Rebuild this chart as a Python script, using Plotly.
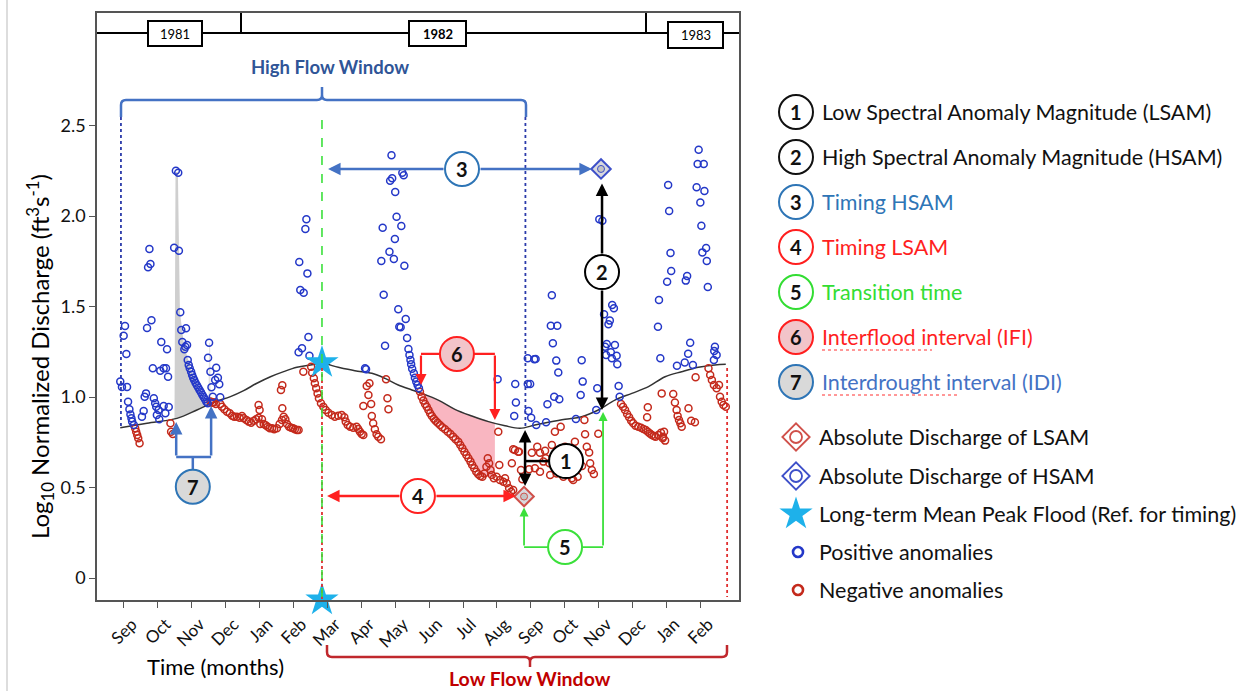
import plotly.graph_objects as go

W, H = 1252, 691

# ---------------- data ----------------
month_labels = ["Sep", "Oct", "Nov", "Dec", "Jan", "Feb", "Mar", "Apr", "May", "Jun",
                "Jul", "Aug", "Sep", "Oct", "Nov", "Dec", "Jan", "Feb"]
month_ticks = list(range(len(month_labels)))   # 0 = Sep 1981
y_ticks = [0, 0.5, 1.0, 1.5, 2.0, 2.5]
y_tick_labels = ["0", "0.5", "1.0", "1.5", "2.0", "2.5"]
years = ["1981", "1982", "1983"]

# long-term mean (black curve)
mean_x = [-0.11, 0.68, 1.56, 2.15, 2.65, 3.14, 3.53, 3.92, 4.32, 4.71, 5.10, 5.50, 5.83,
          6.32, 6.81, 7.31, 7.70, 8.09, 8.49, 8.78, 9.27, 9.76, 10.26, 10.75, 11.24, 11.68,
          12.12, 12.52, 13.01, 13.50, 13.99, 14.48, 14.98, 15.47, 15.96, 16.45, 16.94, 17.43, 17.75]
mean_y = [0.830, 0.855, 0.882, 0.928, 0.971, 1.002, 1.035, 1.076, 1.112, 1.140, 1.164, 1.177, 1.186,
          1.164, 1.145, 1.131, 1.103, 1.066, 1.039, 1.020, 0.983, 0.932, 0.895, 0.864, 0.841, 0.827,
          0.845, 0.860, 0.877, 0.891, 0.928, 0.983, 1.020, 1.057, 1.112, 1.140, 1.164, 1.177, 1.181]

# positive anomalies (month index, log10 discharge)
pos_1981 = [(-0.11, 1.085), (-0.06, 1.055), (0.09, 1.055), (0.03, 1.392), (-0.01, 1.339), (0.07, 1.238),
            (0.12, 0.974), (0.16, 0.932), (0.19, 0.904), (0.22, 0.882), (0.24, 0.864), (0.29, 0.845),
            (0.75, 1.818), (0.71, 1.717), (0.78, 1.735), (0.68, 1.381), (0.81, 1.424), (1.10, 1.304),
            (1.27, 1.264), (0.85, 1.159), (1.07, 1.145), (1.17, 1.159), (1.24, 1.159), (1.30, 1.112),
            (0.65, 1.020), (0.61, 1.002), (0.88, 0.993), (0.92, 0.965), (0.95, 0.946), (1.17, 0.950),
            (1.32, 0.945), (1.02, 0.928), (0.97, 0.901), (1.04, 0.877), (1.22, 0.910), (0.58, 0.923),
            (0.53, 0.891), (1.53, 2.250), (1.60, 2.239), (1.48, 1.825), (1.62, 1.808), (1.66, 1.468),
            (1.69, 1.370), (1.83, 1.380), (1.72, 1.304), (1.78, 1.264), (1.86, 1.287), (1.81, 1.278),
            (1.88, 1.204), (1.91, 1.177), (1.94, 1.159), (1.98, 1.140), (2.01, 1.122), (2.04, 1.107),
            (2.07, 1.094), (2.11, 1.079), (2.15, 1.065), (2.19, 1.052), (2.23, 1.039), (2.27, 1.026),
            (2.31, 1.013), (2.35, 1.000), (2.39, 0.987), (2.43, 0.974), (2.47, 0.965),
            (2.51, 1.300), (2.48, 1.217), (2.55, 1.140), (2.58, 1.054), (2.62, 1.002), (2.72, 1.162),
            (2.77, 1.107), (2.69, 1.094), (2.81, 1.070), (2.84, 0.998)]
pos_1982 = [(5.38, 1.982), (5.35, 1.928), (5.17, 1.746), (5.41, 1.683), (5.20, 1.591), (5.30, 1.576),
            (5.44, 1.331), (5.15, 1.247), (5.25, 1.269), (5.47, 1.228), (7.11, 1.159), (7.14, 1.153),
            (7.89, 2.335), (7.85, 2.195), (7.91, 2.208), (8.21, 2.239), (8.25, 2.225), (8.00, 2.133),
            (8.04, 1.996), (7.63, 1.935), (8.18, 1.945), (7.99, 1.873), (7.83, 1.803), (7.59, 1.751),
            (7.96, 1.762), (8.27, 1.725), (7.66, 1.565), (8.09, 1.485), (8.31, 1.431), (8.12, 1.388),
            (8.16, 1.385), (8.35, 1.326), (7.70, 1.283), (8.39, 1.265), (8.42, 1.232), (8.45, 1.204),
            (8.47, 1.181), (8.50, 1.156), (8.55, 1.131), (8.58, 1.107), (8.62, 1.085), (8.66, 1.066),
            (8.70, 1.048), (11.02, 1.098), (11.54, 1.072), (11.56, 0.969), (11.51, 0.895), (11.91, 1.214),
            (12.10, 1.208), (12.14, 1.210), (11.91, 1.072), (11.98, 1.072), (11.93, 0.923), (12.01, 0.886),
            (12.16, 0.845), (12.45, 0.860), (12.62, 1.562), (12.59, 1.394), (12.78, 1.394), (12.65, 1.297),
            (12.75, 1.201), (12.81, 1.136), (12.69, 1.002), (12.84, 0.987), (12.49, 0.960), (13.50, 1.203),
            (13.53, 1.085), (13.47, 1.011), (13.33, 0.878), (13.96, 1.048), (13.93, 0.928),
            (14.02, 1.982), (14.11, 1.974), (14.40, 1.508), (14.45, 1.490), (14.16, 1.457), (14.33, 1.422),
            (14.29, 1.402), (14.24, 1.293), (14.48, 1.287), (14.19, 1.278), (14.22, 1.232), (14.36, 1.247),
            (14.39, 1.214), (14.53, 1.228), (14.55, 1.181), (14.59, 1.061), (14.62, 1.002)]
pos_1983 = [(16.95, 2.366), (16.92, 2.287), (17.10, 2.287), (16.05, 2.171), (16.89, 2.159), (17.12, 2.138),
            (17.00, 2.074), (16.08, 2.028), (17.03, 1.946), (17.17, 1.823), (17.06, 1.799), (17.19, 1.751),
            (16.12, 1.796), (16.14, 1.696), (16.61, 1.669), (16.57, 1.643), (16.02, 1.637), (17.22, 1.608),
            (15.78, 1.536), (15.75, 1.388), (16.70, 1.300), (16.64, 1.239), (15.82, 1.214), (16.54, 1.190),
            (16.31, 1.173), (16.78, 1.177), (17.43, 1.278), (17.41, 1.254), (17.48, 1.232), (17.40, 1.204)]

# negative anomalies
neg_1981 = [(0.33, 0.827), (0.36, 0.808), (0.39, 0.790), (0.42, 0.772), (0.46, 0.744), (1.37, 0.855),
            (1.39, 0.808), (1.44, 0.796), (2.55, 0.975), (2.60, 0.968), (2.65, 0.971), (2.71, 0.961),
            (2.84, 0.961), (2.89, 0.946), (2.96, 0.932), (3.04, 0.919), (3.12, 0.910), (3.19, 0.897),
            (3.25, 0.891), (3.33, 0.891), (3.41, 0.886), (3.48, 0.895), (3.53, 0.882), (3.61, 0.873),
            (3.68, 0.864), (3.75, 0.858), (3.83, 0.869), (3.90, 0.877), (3.97, 0.886), (4.02, 0.851),
            (4.07, 0.877), (4.12, 0.851), (4.18, 0.844), (4.24, 0.836), (4.30, 0.827), (4.37, 0.827),
            (4.43, 0.822), (4.51, 0.827), (4.59, 0.851), (4.66, 0.873), (4.71, 0.891), (4.76, 0.877),
            (4.81, 0.851), (4.87, 0.836), (4.93, 0.830), (4.99, 0.827), (5.04, 0.822), (5.10, 0.818),
            (5.15, 0.818), (3.97, 0.956), (4.00, 0.928), (4.67, 0.938), (4.63, 1.039), (4.67, 1.065),
            (5.29, 1.140)]
neg_spring_1982 = [(5.52, 1.167), (5.55, 1.134), (5.60, 1.103), (5.63, 1.076), (5.67, 1.048), (5.71, 1.020),
                   (5.75, 0.993), (5.81, 0.965), (5.88, 0.946), (5.95, 0.928), (6.03, 0.913), (6.13, 0.901),
                   (6.22, 0.891), (6.32, 0.897), (6.42, 0.901), (6.50, 0.888), (6.54, 0.864), (6.60, 0.845),
                   (6.67, 0.836), (6.76, 0.830), (6.86, 0.836), (6.91, 0.823), (6.96, 0.808), (7.01, 0.796),
                   (7.06, 0.790), (7.16, 1.061), (7.24, 1.076), (7.21, 1.011), (7.29, 0.961), (7.06, 0.950),
                   (7.31, 0.895), (7.35, 0.855), (7.40, 0.822), (7.45, 0.794), (7.50, 0.781), (7.58, 0.766),
                   (7.73, 1.098), (7.77, 0.993), (7.80, 0.932)]
neg_summer_1982 = [(8.73, 1.029), (8.78, 1.002), (8.83, 0.980), (8.88, 0.961), (8.93, 0.946), (8.98, 0.928),
                   (9.03, 0.910), (9.08, 0.895), (9.14, 0.880), (9.19, 0.869), (9.25, 0.858), (9.32, 0.845),
                   (9.39, 0.833), (9.47, 0.822), (9.55, 0.808), (9.63, 0.796), (9.71, 0.781), (9.78, 0.766),
                   (9.86, 0.753), (9.92, 0.735), (9.98, 0.717), (10.04, 0.698), (10.10, 0.680), (10.16, 0.661),
                   (10.22, 0.643), (10.27, 0.624), (10.33, 0.606), (10.39, 0.587), (10.45, 0.573), (10.51, 0.564),
                   (10.57, 0.560), (10.63, 0.578), (10.69, 0.615), (10.73, 0.661), (10.77, 0.634), (10.81, 0.597),
                   (10.85, 0.569), (10.91, 0.551), (10.99, 0.560), (11.09, 0.541), (11.19, 0.532), (11.24, 0.551),
                   (11.29, 0.523), (11.36, 0.496), (11.42, 0.477), (11.48, 0.486), (11.04, 0.808), (11.07, 0.624),
                   (11.44, 0.634), (11.48, 0.711), (11.63, 0.698)]
neg_autumn_1982 = [(11.53, 0.707), (11.65, 0.698), (11.71, 0.597), (11.75, 0.545), (12.03, 0.692), (12.19, 0.725),
                   (12.27, 0.692), (12.42, 0.703), (12.44, 0.661), (12.55, 0.634), (12.71, 0.808), (12.88, 0.836),
                   (12.62, 0.735), (12.88, 0.698), (13.01, 0.725), (13.06, 0.680), (13.16, 0.643), (13.30, 0.753),
                   (13.25, 0.541), (13.60, 0.794), (13.58, 0.873), (13.65, 0.725), (13.72, 0.694), (13.75, 0.634),
                   (13.80, 0.597), (13.86, 0.575), (13.99, 0.797), (11.95, 0.601), (12.12, 0.606), (12.27, 0.587),
                   (12.37, 0.643), (12.57, 0.569), (12.76, 0.578), (12.96, 0.560), (13.21, 0.551), (13.38, 0.560),
                   (13.04, 0.608), (13.51, 0.619), (12.74, 0.641)]
neg_winter_1983 = [(14.66, 0.961), (14.72, 0.946), (14.78, 0.928), (14.84, 0.906), (14.90, 0.888), (14.96, 0.869),
                   (15.02, 0.855), (15.09, 0.841), (15.17, 0.836), (15.25, 0.830), (15.32, 0.823), (15.39, 0.818),
                   (15.45, 0.808), (15.51, 0.799), (15.57, 0.790), (15.63, 0.785), (15.68, 0.781), (15.76, 0.790),
                   (15.84, 0.803), (15.90, 0.781), (15.96, 0.759), (15.93, 0.808), (15.89, 0.772), (15.45, 0.943),
                   (15.43, 0.888), (15.86, 1.020), (16.20, 1.017), (16.25, 0.969), (16.30, 0.928), (16.33, 0.895),
                   (16.37, 0.873), (16.41, 0.855), (16.45, 0.836), (16.65, 0.938), (16.73, 0.869), (16.84, 0.860),
                   (16.86, 1.109), (17.24, 1.159), (17.29, 1.122), (17.34, 1.094), (17.40, 1.066), (17.48, 1.048),
                   (17.55, 1.066), (17.58, 1.002), (17.63, 0.974), (17.68, 0.956), (17.75, 0.946)]

# shaded intervals
idi_fill_x = [1.49, 1.52, 1.59, 1.65, 1.77, 1.89, 2.01, 2.15, 2.30, 2.45, 2.45, 2.15, 1.80, 1.49]
idi_fill_y = [0.878, 2.243, 2.243, 1.470, 1.287, 1.204, 1.127, 1.061, 1.011, 0.967, 0.959, 0.928, 0.901, 0.878]
idi_spike_x = [2.49, 2.51, 2.54, 2.56]
idi_spike_y = [0.960, 1.300, 1.300, 0.955]
ifi_fill_x = [8.68, 9.27, 9.76, 10.26, 10.75, 10.94, 10.94, 10.55, 10.26, 9.96, 9.67, 9.27, 8.98, 8.73, 8.68]
ifi_fill_y = [1.039, 0.983, 0.932, 0.895, 0.864, 0.856, 0.558, 0.558, 0.643, 0.725, 0.790, 0.855, 0.924, 1.020, 1.039]

# key reference points
peak_ref = (5.84, 1.19)          # long-term mean peak flood
hsam_pt = (14.07, 2.26)          # absolute discharge of HSAM
lsam_pt = (11.80, 0.45)          # absolute discharge of LSAM
high_window = (-0.09, 11.84)     # month span
low_window_end = 17.79

legend_numbered = [("1", "Low Spectral Anomaly Magnitude (LSAM)", "#111111", "#111111", "white"),
                   ("2", "High Spectral Anomaly Magnitude (HSAM)", "#111111", "#111111", "white"),
                   ("3", "Timing HSAM", "#2E75B6", "#2E75B6", "white"),
                   ("4", "Timing LSAM", "#FF1F1F", "#FF1F1F", "white"),
                   ("5", "Transition time", "#33DD33", "#33DD33", "white"),
                   ("6", "Interflood interval (IFI)", "#FF1F1F", "#FF1F1F", "#F2C4C9"),
                   ("7", "Interdrought interval (IDI)", "#4472C4", "#2E75B6", "#D9D9D9")]

# ---------------- styling ----------------
FONT = "Lato"
BLUE_PTS = "#2438C8"
RED_PTS = "#C42A1C"
ANN_BLUE = "#4472C4"
RED = "#FF2020"
GREEN = "#3BE03B"
STAR = "#1EB1EA"
LEG_SIZE = 21.5

X0, X1 = -0.796, 18.14
Y0, Y1 = -0.1215, 3.1215
DOM_X = [97 / W, 739 / W]
DOM_Y = [1 - 600 / H, 1 - 13 / H]
XPX = (DOM_X[1] - DOM_X[0]) * W / (X1 - X0)
YPX = (DOM_Y[1] - DOM_Y[0]) * H / (Y1 - Y0)


def unzip(pts):
    return [p[0] for p in pts], [p[1] for p in pts]


fig = go.Figure()

fig.add_trace(go.Scatter(x=idi_fill_x, y=idi_fill_y, fill="toself", fillcolor="#CFCFCF",
                         mode="lines", line=dict(width=0), hoverinfo="skip"))
fig.add_trace(go.Scatter(x=idi_spike_x, y=idi_spike_y, fill="toself", fillcolor="#E2E2E2",
                         mode="lines", line=dict(width=0), hoverinfo="skip"))
fig.add_trace(go.Scatter(x=ifi_fill_x, y=ifi_fill_y, fill="toself", fillcolor="#F9B6C1",
                         mode="lines", line=dict(width=0), hoverinfo="skip"))
fig.add_trace(go.Scatter(x=mean_x, y=mean_y, mode="lines", line=dict(color="#333333", width=1.5),
                         line_shape="spline", hoverinfo="skip"))

for pts in [neg_1981, neg_spring_1982, neg_summer_1982, neg_autumn_1982, neg_winter_1983]:
    xs, ys = unzip(pts)
    fig.add_trace(go.Scatter(x=xs, y=ys, mode="markers",
                             marker=dict(symbol="circle-open", size=7, color=RED_PTS, line=dict(width=1.5))))
for pts in [pos_1981, pos_1982, pos_1983]:
    xs, ys = unzip(pts)
    fig.add_trace(go.Scatter(x=xs, y=ys, mode="markers",
                             marker=dict(symbol="circle-open", size=7, color=BLUE_PTS, line=dict(width=1.5))))

shapes = []
annotations = []


def dline(x0, y0, x1, y1, color, width, dash="solid", ref=("x", "y")):
    shapes.append(dict(type="line", xref=ref[0], yref=ref[1], x0=x0, y0=y0, x1=x1, y1=y1,
                       line=dict(color=color, width=width, dash=dash)))


def arrow(x0, y0, x1, y1, color, width, both=False, size=1.0):
    annotations.append(dict(x=x1, y=y1, ax=x0, ay=y0, xref="x", yref="y", axref="x", ayref="y",
                            text="", showarrow=True, arrowhead=2, startarrowhead=2, arrowsize=size,
                            startarrowsize=size, arrowwidth=width, arrowcolor=color, standoff=0,
                            startstandoff=0, arrowside="end+start" if both else "end"))


def dcircle(cx, cy, num, line_color, fill="white", r=17):
    shapes.append(dict(type="circle", xref="x", yref="y", x0=cx - r / XPX, x1=cx + r / XPX,
                       y0=cy - r / YPX, y1=cy + r / YPX, fillcolor=fill,
                       line=dict(color=line_color, width=2)))
    annotations.append(dict(x=cx, y=cy, xref="x", yref="y", text="<b>%s</b>" % num, showarrow=False,
                            font=dict(family=FONT, size=20, color="#111")))


# vertical guide lines
dline(high_window[0], 2.547, high_window[0], 0.83, "#2B3BAA", 1.8, "dot")
dline(high_window[1], 2.547, high_window[1], 0.83, "#2B3BAA", 1.8, "dot")
dline(peak_ref[0], 1.16, peak_ref[0], Y0, "#E03030", 1.8, "dot")
dline(peak_ref[0], 2.53, peak_ref[0], Y0, GREEN, 1.6, "dash")
dline(low_window_end, 1.16, low_window_end, -0.105, "#E03030", 1.8, "dot")

# (3) timing HSAM
r_x = 17 / XPX
r_y = 17 / YPX
c3 = (9.97, hsam_pt[1])
arrow(c3[0] - r_x, c3[1], 6.02, c3[1], ANN_BLUE, 2.5)
arrow(c3[0] + r_x, c3[1], 13.80, c3[1], ANN_BLUE, 2.5)
dcircle(c3[0], c3[1], "3", "#2E75B6")
# (2) HSAM magnitude
c2 = (14.10, 1.69)
arrow(c2[0], c2[1] + r_y, c2[0], 2.18, "black", 2.5)
arrow(c2[0], c2[1] - r_y, c2[0], 0.928, "black", 2.5)
dcircle(c2[0], c2[1], "2", "black")
# (1) LSAM magnitude
arrow(11.83, 0.50, 11.83, 0.818, "black", 2.5, both=True)
c1 = (13.04, 0.646)
dline(11.83, c1[1], c1[0] - r_x, c1[1], "black", 2.5)
dcircle(c1[0], c1[1], "1", "black")
# (4) timing LSAM
c4 = (8.67, 0.453)
arrow(c4[0] - r_x, c4[1], 5.99, c4[1], RED, 2.5)
arrow(c4[0] + r_x, c4[1], 11.56, c4[1], RED, 2.5)
dcircle(c4[0], c4[1], "4", RED)
# (5) transition time
c5 = (13.01, 0.171)
dline(11.80, c5[1], 14.13, c5[1], GREEN, 1.8)
arrow(11.80, c5[1], 11.80, 0.39, GREEN, 1.8)
arrow(14.13, c5[1], 14.13, 0.917, GREEN, 1.8)
dcircle(c5[0], c5[1], "5", GREEN)
# (6) interflood interval
c6 = (9.82, 1.238)
dline(8.76, c6[1], 10.94, c6[1], RED, 2.2)
arrow(8.76, c6[1], 8.76, 1.066, RED, 2.2)
arrow(10.94, c6[1], 10.94, 0.873, RED, 2.2)
dcircle(c6[0], c6[1], "6", RED, "#F2C4C9")
# (7) interdrought interval
c7 = (2.03, 0.504)
dline(1.54, 0.669, 2.57, 0.669, ANN_BLUE, 2.5)
dline(c7[0], 0.669, c7[0], c7[1] + r_y, ANN_BLUE, 2.5)
arrow(1.54, 0.669, 1.54, 0.862, ANN_BLUE, 2.5)
arrow(2.57, 0.669, 2.57, 0.950, ANN_BLUE, 2.5)
dcircle(c7[0], c7[1], "7", "#2E75B6", "#D9D9D9")

# HSAM / LSAM diamonds and peak star
for (pt, col) in [(hsam_pt, "#3D4FC9"), (lsam_pt, "#D0504A")]:
    fig.add_trace(go.Scatter(x=[pt[0]], y=[pt[1]], mode="markers", cliponaxis=False,
                             marker=dict(symbol="diamond", size=15, color="rgba(215,215,220,0.95)",
                                         line=dict(color=col, width=2))))
    fig.add_trace(go.Scatter(x=[pt[0]], y=[pt[1]], mode="markers", cliponaxis=False,
                             marker=dict(symbol="circle", size=7, color="#C4C4C4",
                                         line=dict(color=col, width=1))))
fig.add_trace(go.Scatter(x=[peak_ref[0], peak_ref[0]], y=[peak_ref[1], Y0], mode="markers",
                         cliponaxis=False, marker=dict(symbol="star", size=25, color=STAR, line=dict(width=0))))

# ---------------- overlay (pixel) layer for frame extras & legend ----------------
P = ("x2", "y2")
# year bar
dline(97, 33, 739, 33, "black", 2, ref=P)
dline(241, 13, 241, 33, "black", 2, ref=P)
dline(646, 13, 646, 33, "black", 2, ref=P)
for (lab, x0, x1, y0, y1, bold) in [(years[0], 148, 202, 21, 46, False), (years[1], 409, 466, 21, 46, True),
                                   (years[2], 668, 723, 22, 48, False)]:
    shapes.append(dict(type="rect", xref="x2", yref="y2", x0=x0, x1=x1, y0=y0, y1=y1,
                       fillcolor="white", line=dict(color="black", width=2)))
    annotations.append(dict(x=(x0 + x1) / 2, y=(y0 + y1) / 2, xref="x2", yref="y2", showarrow=False,
                            text=("<b>%s</b>" % lab) if bold else lab,
                            font=dict(family=FONT, size=13, color="black")))

# window brackets
shapes.append(dict(type="path", xref="x2", yref="y2", line=dict(color=ANN_BLUE, width=2.5),
                   path="M 121,117 L 121,105 Q 121,100 126,100 L 317,100 Q 322,100 322,95 L 322,87 "
                        "M 322,95 Q 322,100 327,100 L 521,100 Q 526,100 526,105 L 526,117"))
annotations.append(dict(x=330, y=67, xref="x2", yref="y2", showarrow=False, text="<b>High Flow Window</b>",
                        font=dict(family=FONT, size=18.5, color="#2F5597")))
shapes.append(dict(type="path", xref="x2", yref="y2", line=dict(color="#C0282D", width=2.5),
                   path="M 327,645 L 327,652 Q 327,657 332,657 L 525,657 Q 530,657 530,662 L 530,667 "
                        "M 530,662 Q 530,657 535,657 L 722,657 Q 727,657 727,652 L 727,645"))
annotations.append(dict(x=530, y=678, xref="x2", yref="y2", showarrow=False, text="<b>Low Flow Window</b>",
                        font=dict(family=FONT, size=19.5, color="#C00000")))

# axis titles
annotations.append(dict(x=40, y=357, xref="x2", yref="y2", showarrow=False, textangle=-90,
                        text="Log<sub>10</sub> Normalized Discharge (ft<sup>3</sup>s<sup>-1</sup>)",
                        font=dict(family=FONT, size=24, color="black")))
annotations.append(dict(x=215, y=666, xref="x2", yref="y2", showarrow=False, text="Time (months)",
                        font=dict(family=FONT, size=22, color="black")))

# faint page border
dline(7, 0, 7, H, "#DDDDDD", 2, ref=P)

# legend
row_y = [112, 157, 202, 247, 292, 337, 382]
for (num, label, tcol, ccol, fill), yy in zip(legend_numbered, row_y):
    shapes.append(dict(type="circle", xref="x2", yref="y2", x0=796 - 17, x1=796 + 17, y0=yy - 17, y1=yy + 17,
                       fillcolor=fill, line=dict(color=ccol, width=2)))
    annotations.append(dict(x=796, y=yy, xref="x2", yref="y2", showarrow=False, text="<b>%s</b>" % num,
                            font=dict(family=FONT, size=20, color="#111")))
    annotations.append(dict(x=820, y=yy, xref="x2", yref="y2", showarrow=False, text=label,
                            xanchor="left", font=dict(family=FONT, size=LEG_SIZE, color=tcol)))
# spell-check underlines
dline(822, 350, 932, 350, "#FF3030", 1, "dot", ref=P)
dline(822, 395, 960, 395, "#FF3030", 1, "dot", ref=P)

lower = [("Absolute Discharge of LSAM", 437), ("Absolute Discharge of HSAM", 476),
         ("Long-term Mean Peak Flood (Ref. for timing)", 514), ("Positive anomalies", 552),
         ("Negative anomalies", 590)]
for lab, yy in lower:
    annotations.append(dict(x=817, y=yy, xref="x2", yref="y2", showarrow=False, text=lab,
                            xanchor="left", font=dict(family=FONT, size=LEG_SIZE, color="#111")))
for col, yy in [("#D0504A", 437), ("#3D4FC9", 476)]:
    fig.add_trace(go.Scatter(x=[796], y=[yy], xaxis="x2", yaxis="y2", mode="markers",
                             marker=dict(symbol="diamond", size=21, color="white", line=dict(color=col, width=1.8))))
    fig.add_trace(go.Scatter(x=[796], y=[yy], xaxis="x2", yaxis="y2", mode="markers",
                             marker=dict(symbol="circle-open", size=12, color=col, line=dict(width=1.8))))
fig.add_trace(go.Scatter(x=[796], y=[514], xaxis="x2", yaxis="y2", mode="markers",
                         marker=dict(symbol="star", size=25, color=STAR, line=dict(width=0))))
fig.add_trace(go.Scatter(x=[798, 798], y=[552, 590], xaxis="x2", yaxis="y2", mode="markers",
                         marker=dict(symbol="circle-open", size=10, color=[BLUE_PTS, RED_PTS], line=dict(width=2.6))))

fig.update_layout(
    width=W, height=H, autosize=False, showlegend=False,
    margin=dict(l=0, r=0, t=0, b=0),
    paper_bgcolor="white", plot_bgcolor="rgba(0,0,0,0)",
    xaxis=dict(domain=DOM_X, range=[X0, X1], tickvals=month_ticks, ticktext=month_labels, tickangle=-45,
               ticks="outside", ticklen=6, tickwidth=1.3, tickcolor="#555", showline=True, linecolor="#555",
               linewidth=1.5, mirror=True, showgrid=False, zeroline=False, anchor="y",
               ticklabelshift=8,
               tickfont=dict(family=FONT, size=17, color="#111")),
    yaxis=dict(domain=DOM_Y, range=[Y0, Y1], tickvals=y_ticks, ticktext=y_tick_labels,
               ticks="outside", ticklen=6, tickwidth=1.3, tickcolor="#555", showline=True, linecolor="#555",
               linewidth=1.5, mirror=True, showgrid=False, zeroline=False, anchor="x",
               tickfont=dict(family=FONT, size=18, color="#111")),
    xaxis2=dict(domain=[0, 1], range=[0, W], visible=False, anchor="y2", fixedrange=True),
    yaxis2=dict(domain=[0, 1], range=[H, 0], visible=False, anchor="x2", fixedrange=True),
    shapes=shapes, annotations=annotations,
)

fig.write_html("out.html")
